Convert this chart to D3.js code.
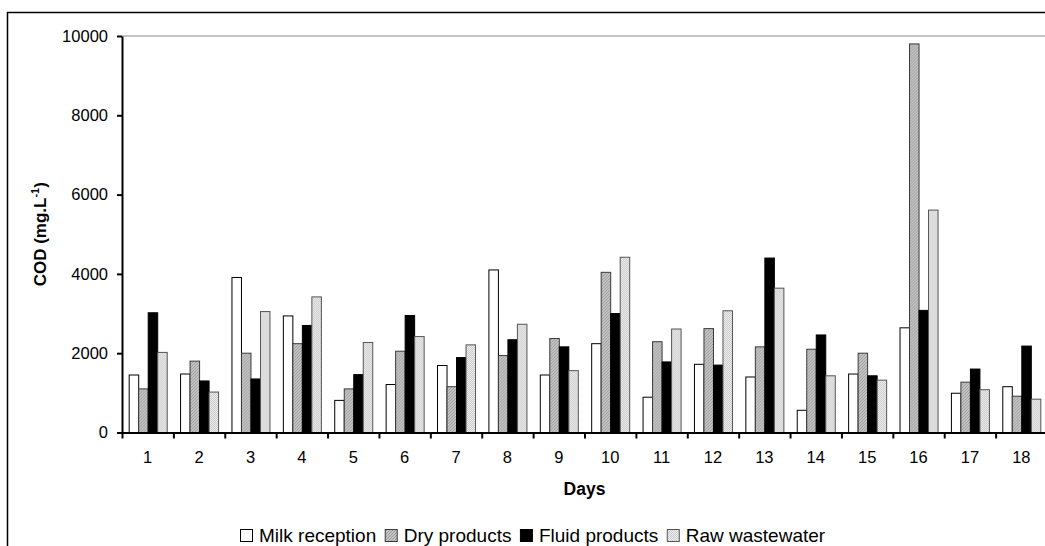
<!DOCTYPE html>
<html>
<head>
<meta charset="utf-8">
<script src="https://cdn.jsdelivr.net/npm/d3@7"></script>
<style>
  html, body { margin: 0; padding: 0; background: #fff; }
  svg { display: block; font-family: "Liberation Sans", Arial, sans-serif; }
</style>
</head>
<body>
<svg id="chart" width="1045" height="546"></svg>
<script>
const days = ["1","2","3","4","5","6","7","8","9","10","11","12","13","14","15","16","17","18"];
const seriesNames = ["Milk reception", "Dry products", "Fluid products", "Raw wastewater"];
const milkReception = [1450,1475,3910,2940,810,1210,1690,4100,1450,2240,890,1720,1400,560,1475,2640,990,1155];
const dryProducts   = [1100,1800,2000,2240,1100,2050,1155,1940,2370,4040,2290,2620,2160,2100,2000,9800,1270,915];
const fluidProducts = [3020,1300,1350,2700,1460,2950,1890,2340,2160,3000,1780,1700,4400,2460,1430,3080,1600,2180];
const rawWastewater = [2020,1020,3050,3420,2270,2420,2210,2730,1560,4420,2610,3070,3640,1430,1320,5610,1080,840];
const yTicks = [0,2000,4000,6000,8000,10000];

const seriesValues = [milkReception, dryProducts, fluidProducts, rawWastewater];

const svg = d3.select("#chart");

// patterns
const defs = svg.append("defs");
const pDry = defs.append("pattern").attr("id","pDry").attr("patternUnits","userSpaceOnUse")
  .attr("width",3).attr("height",3);
pDry.append("rect").attr("width",3).attr("height",3).attr("fill","#c2c2c2");
pDry.append("path").attr("d","M0,3 L3,0 M-1,1 L1,-1 M2,4 L4,2").attr("stroke","#979797").attr("stroke-width",0.8);
const pRaw = defs.append("pattern").attr("id","pRaw").attr("patternUnits","userSpaceOnUse")
  .attr("width",2).attr("height",2);
pRaw.append("rect").attr("width",2).attr("height",2).attr("fill","#eeeeee");
pRaw.append("rect").attr("width",1).attr("height",1).attr("fill","#cacaca");
pRaw.append("rect").attr("x",1).attr("y",1).attr("width",1).attr("height",1).attr("fill","#cacaca");

const fills = ["#ffffff", "url(#pDry)", "#000000", "url(#pRaw)"];
const strokes = ["#000000", "#3a3a3a", "#000000", "#555555"];

// outer frame
svg.append("rect").attr("x",7.5).attr("y",12.5).attr("width",1100).attr("height",600)
  .attr("fill","none").attr("stroke","#000").attr("stroke-width",1.5);

const plotLeft = 122, plotRight = 1047, plotTop = 36, plotBottom = 432.5;

const x0 = d3.scaleBand().domain(days).range([plotLeft, plotRight]).paddingInner(0.26).paddingOuter(0.13);
const x1 = d3.scaleBand().domain(d3.range(4)).range([0, x0.bandwidth()]);
const xEdges = d3.scaleLinear().domain([0, days.length]).range([plotLeft, plotRight]);
const y = d3.scaleLinear().domain([0, 10000]).range([plotBottom, plotTop]);

// top gridline
svg.append("line").attr("x1", plotLeft).attr("x2", plotRight).attr("y1", y(10000)).attr("y2", y(10000))
  .attr("stroke","#8c8c8c").attr("stroke-width",1.2);

// bars
const groups = svg.append("g").selectAll("g").data(days).join("g")
  .attr("transform", d => `translate(${x0(d)},0)`);
groups.selectAll("rect").data((d,i) => seriesValues.map((s,k) => ({k, v: s[i]}))).join("rect")
  .attr("x", d => x1(d.k) + 0.5)
  .attr("width", x1.bandwidth())
  .attr("y", d => y(d.v))
  .attr("height", d => y(0) - y(d.v))
  .attr("fill", d => fills[d.k])
  .attr("stroke", d => strokes[d.k])
  .attr("stroke-width", 1);

// y axis
const yAxis = svg.append("g").attr("transform", `translate(${plotLeft},0)`)
  .call(d3.axisLeft(y).tickValues(yTicks).tickFormat(d3.format("d")).tickSize(5).tickPadding(9).tickSizeOuter(0));
yAxis.select(".domain").attr("stroke","#000").attr("stroke-width",2);
yAxis.selectAll(".tick line").attr("stroke","#000").attr("stroke-width",2);
yAxis.selectAll(".tick text").attr("font-size",16.5).attr("fill","#000").attr("font-family","Liberation Sans, Arial, sans-serif");

// x axis boundary ticks
const xTickAxis = svg.append("g").attr("transform", `translate(0,${plotBottom})`)
  .call(d3.axisBottom(xEdges).tickValues(d3.range(days.length + 1)).tickFormat("").tickSize(6).tickSizeOuter(0));
xTickAxis.select(".domain").attr("stroke","#000").attr("stroke-width",2);
xTickAxis.selectAll(".tick line").attr("stroke","#000").attr("stroke-width",2);

// x labels
const xLab = svg.append("g").attr("transform", `translate(0,${plotBottom})`)
  .call(d3.axisBottom(x0).tickSize(0).tickPadding(19));
xLab.select(".domain").remove();
xLab.selectAll(".tick text").attr("font-size",16.5).attr("fill","#000").attr("font-family","Liberation Sans, Arial, sans-serif");

// axis titles
svg.append("text").attr("x", (plotLeft + plotRight)/2).attr("y", 494.5).attr("text-anchor","middle")
  .attr("font-weight","bold").attr("font-size",17.5).text("Days");

const yt = svg.append("text").attr("transform", `translate(46,${(plotTop+plotBottom)/2}) rotate(-90)`)
  .attr("text-anchor","middle").attr("font-weight","bold").attr("font-size",17);
yt.append("tspan").text("COD (mg.L");
yt.append("tspan").attr("dy",-7).attr("font-size",11).text("-1");
yt.append("tspan").attr("dy",7).text(")");

// legend
const legend = svg.append("g").attr("transform","translate(240,542)");
let lx = 0;
seriesNames.forEach((name, k) => {
  legend.append("rect").attr("x", lx + 0.5).attr("y", -12.5).attr("width", 12).attr("height", 12)
    .attr("fill", fills[k]).attr("stroke", k === 0 ? "#000" : strokes[k]).attr("stroke-width",1);
  const t = legend.append("text").attr("x", lx + 19).attr("y", 0).attr("font-size",19).text(name);
  lx += 19 + t.node().getComputedTextLength() + 8.5;
});
</script>
</body>
</html>
